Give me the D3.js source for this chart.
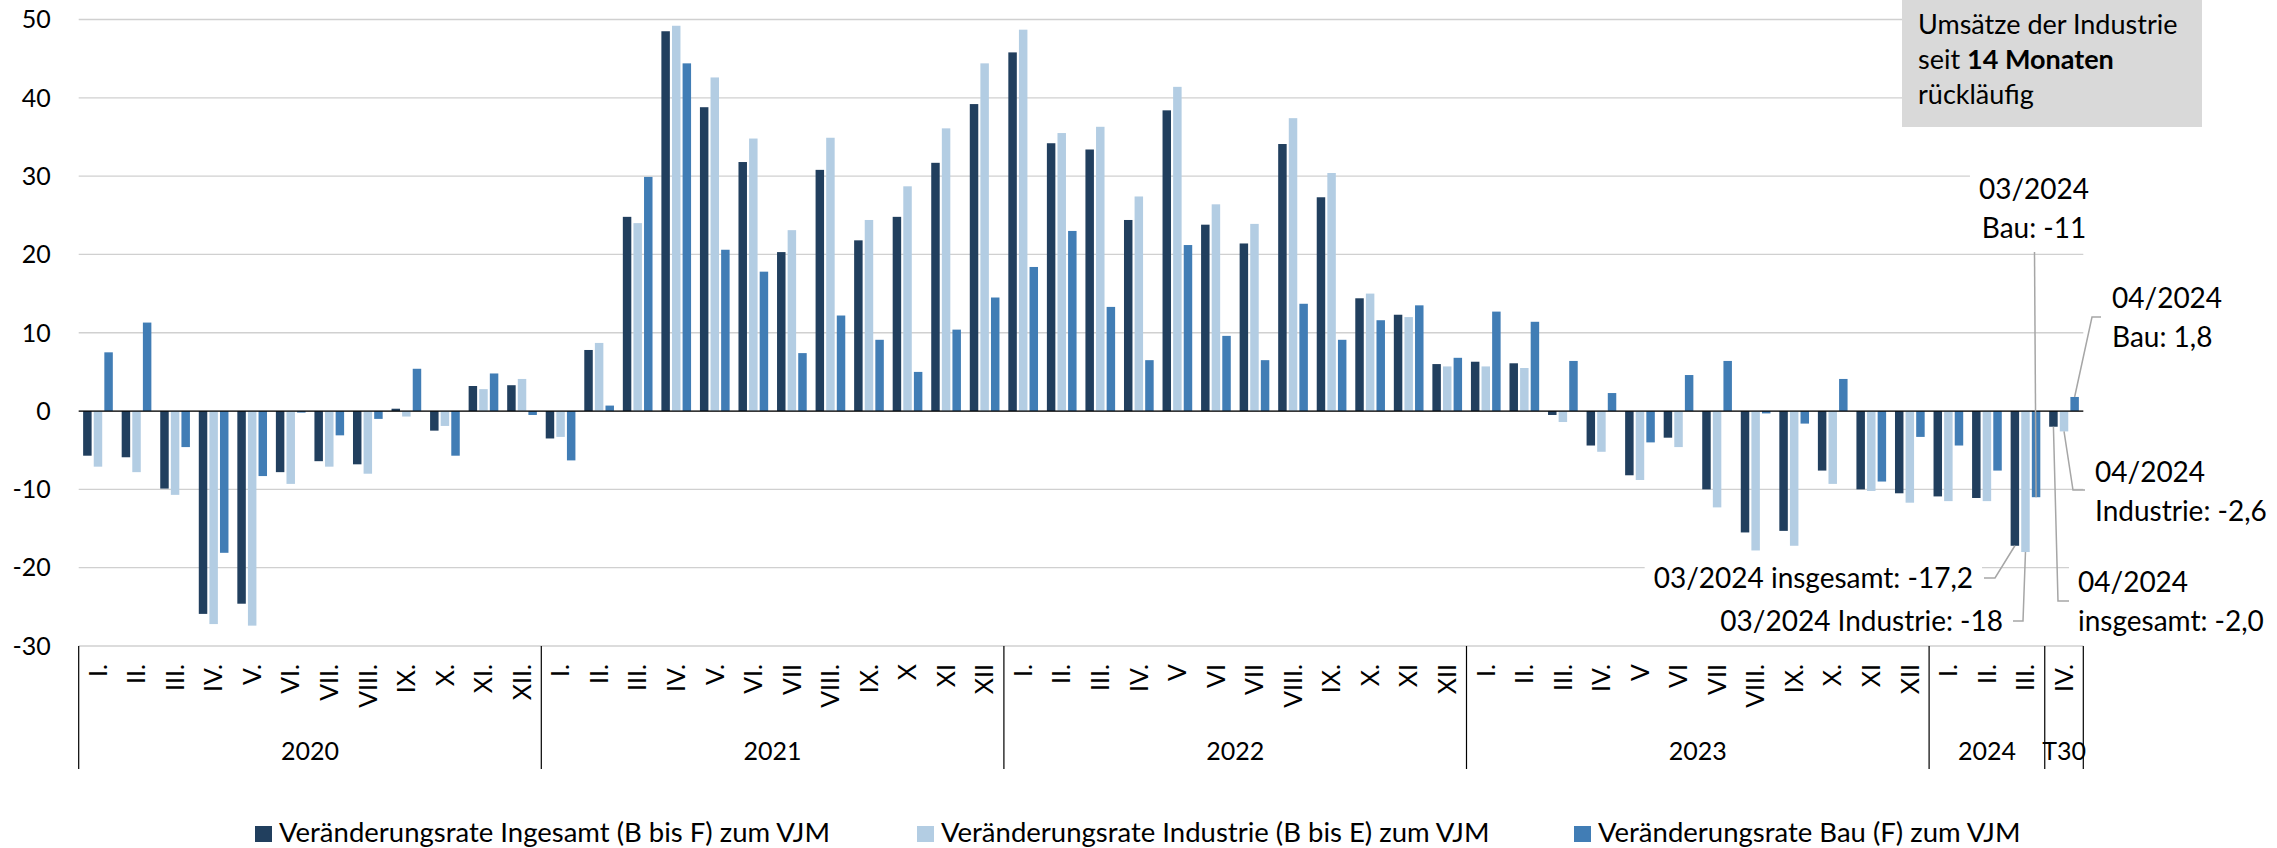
<!DOCTYPE html>
<html lang="de">
<head>
<meta charset="utf-8">
<script src="https://cdn.jsdelivr.net/npm/d3@7"></script>
<style>
  body { margin: 0; background: #fff; }
  svg { display: block; font-family: Lato, 'Open Sans', sans-serif; }
</style>
</head>
<body>
<div id="plot"></div>
<script>
// categories
const monthLabels = [
    'I.', 'II.', 'III.', 'IV.', 'V.', 'VI.', 'VII.', 'VIII.', 'IX.', 'X.', 'XI.', 'XII.',
    'I.', 'II.', 'III.', 'IV.', 'V.', 'VI.', 'VII', 'VIII.', 'IX.', 'X', 'XI', 'XII',
    'I.', 'II.', 'III.', 'IV.', 'V', 'VI', 'VII', 'VIII.', 'IX.', 'X.', 'XI', 'XII',
    'I.', 'II.', 'III.', 'IV.', 'V', 'VI', 'VII', 'VIII.', 'IX.', 'X.', 'XI', 'XII',
    'I.', 'II.', 'III.',
    'IV.'
];
const yearLabels = ['2020', '2021', '2022', '2023', '2024', 'T30'];
const yearLengths = [12, 12, 12, 12, 3, 1];

// series values (change rate to same month of previous year, %)
const seriesNames = [
    'Veränderungsrate Ingesamt (B bis F) zum VJM',
    'Veränderungsrate Industrie (B bis E) zum VJM',
    'Veränderungsrate Bau (F) zum VJM'
];
const ingesamt = [
    -5.7, -5.9, -9.9, -25.9, -24.6, -7.8, -6.4, -6.8, 0.3, -2.5, 3.2, 3.3,
    -3.5, 7.8, 24.8, 48.5, 38.8, 31.8, 20.3, 30.8, 21.8, 24.8, 31.7, 39.2,
    45.8, 34.2, 33.4, 24.4, 38.4, 23.8, 21.4, 34.1, 27.3, 14.4, 12.3, 6.0,
    6.3, 6.1, -0.5, -4.4, -8.2, -3.4, -10.0, -15.5, -15.3, -7.6, -10.0, -10.5,
    -10.9, -11.1, -17.2,
    -2.0
];
const industrie = [
    -7.1, -7.8, -10.7, -27.2, -27.4, -9.3, -7.1, -8.0, -0.7, -1.9, 2.8, 4.1,
    -3.3, 8.7, 24.0, 49.2, 42.6, 34.8, 23.1, 34.9, 24.4, 28.7, 36.1, 44.4,
    48.7, 35.5, 36.3, 27.4, 41.4, 26.4, 23.9, 37.4, 30.4, 15.0, 12.0, 5.7,
    5.7, 5.5, -1.4, -5.2, -8.8, -4.6, -12.3, -17.8, -17.2, -9.3, -10.2, -11.7,
    -11.5, -11.5, -18.0,
    -2.6
];
const bau = [
    7.5, 11.3, -4.6, -18.1, -8.3, -0.2, -3.1, -1.0, 5.4, -5.7, 4.8, -0.5,
    -6.3, 0.7, 29.9, 44.4, 20.6, 17.8, 7.4, 12.2, 9.1, 5.0, 10.4, 14.5,
    18.4, 23.0, 13.3, 6.5, 21.2, 9.6, 6.5, 13.7, 9.1, 11.6, 13.5, 6.8,
    12.7, 11.4, 6.4, 2.3, -4.0, 4.6, 6.4, -0.3, -1.6, 4.1, -9.0, -3.3,
    -4.4, -7.6, -11.0,
    1.8
];
const yTicks = [-30, -20, -10, 0, 10, 20, 30, 40, 50];

const colors = ['#213f5e', '#b3cde3', '#417db5'];
const series = [ingesamt, industrie, bau];

// layout
const W = 2277;
const H = 848;
const margin = {t: 19.5, r: W - 2083.3, b: H - 646, l: 78.7};
const plotW = W - margin.l - margin.r;
const plotH = H - margin.t - margin.b;

const svg = d3.select('#plot')
    .append('svg')
    .attr('width', W)
    .attr('height', H);

const g = svg.append('g')
    .attr('transform', `translate(${margin.l}, ${margin.t})`);

const x0 = d3.scaleBand()
    .domain(d3.range(monthLabels.length))
    .range([0, plotW])
    .paddingInner(0.23)
    .paddingOuter(0.115);

const x1 = d3.scaleBand()
    .domain(d3.range(series.length))
    .range([0, x0.bandwidth()])
    .paddingInner(0.2);

const y = d3.scaleLinear()
    .domain([-30, 50])
    .range([plotH, 0]);

// gridlines
g.append('g')
    .selectAll('line')
    .data(yTicks)
    .join('line')
    .attr('x1', 0)
    .attr('x2', plotW)
    .attr('y1', d => y(d))
    .attr('y2', d => y(d))
    .attr('stroke', '#d0d0d0')
    .attr('stroke-width', 1.3);

// y tick labels
g.append('g')
    .selectAll('text')
    .data(yTicks)
    .join('text')
    .attr('x', -28)
    .attr('y', d => y(d))
    .attr('dy', '0.35em')
    .attr('text-anchor', 'end')
    .style('font-size', '25px')
    .text(d => d);

// bars
const monthGroups = g.append('g')
    .selectAll('g')
    .data(d3.range(monthLabels.length))
    .join('g')
    .attr('transform', i => `translate(${x0(i)}, 0)`);

monthGroups.selectAll('rect')
    .data(i => series.map((s, k) => ({k: k, v: s[i]})))
    .join('rect')
    .attr('x', d => x1(d.k))
    .attr('width', x1.bandwidth())
    .attr('y', d => y(Math.max(0, d.v)))
    .attr('height', d => Math.abs(y(d.v) - y(0)))
    .attr('fill', d => colors[d.k]);

// zero line
g.append('line')
    .attr('x1', 0)
    .attr('x2', plotW)
    .attr('y1', y(0))
    .attr('y2', y(0))
    .attr('stroke', '#000')
    .attr('stroke-width', 1.2);

// category axis: month labels
const step = x0.step();
g.append('g')
    .selectAll('text')
    .data(monthLabels)
    .join('text')
    .attr('transform', (d, i) => `translate(${(i + 0.5) * step}, ${plotH + 18}) rotate(-90)`)
    .attr('dy', '0.35em')
    .attr('text-anchor', 'end')
    .style('font-size', '25px')
    .text(d => d);

// year groups
const cum = [0, ...d3.cumsum(yearLengths)];
g.append('g')
    .selectAll('line')
    .data(cum)
    .join('line')
    .attr('x1', d => d * step)
    .attr('x2', d => d * step)
    .attr('y1', plotH)
    .attr('y2', plotH + 123)
    .attr('stroke', '#000')
    .attr('stroke-width', 1.2);

g.append('g')
    .selectAll('text')
    .data(yearLabels)
    .join('text')
    .attr('x', (d, i) => (cum[i] + yearLengths[i] / 2) * step)
    .attr('y', plotH + 114)
    .attr('text-anchor', 'middle')
    .style('font-size', '25px')
    .text(d => d);

// annotations for the latest months
const notes = [
    {s: 0, m: 50, lines: ['03/2024 insgesamt: -17,2'], x: 1973, y: 588, anchor: 'end', elbow: [[1984, 578], [1995, 578]]},
    {s: 1, m: 50, lines: ['03/2024 Industrie: -18'], x: 2003, y: 631, anchor: 'end', elbow: [[2013, 621], [2023, 621]]},
    {s: 2, m: 50, lines: ['03/2024', 'Bau: -11'], x: 2034, y: 199, anchor: 'middle', elbow: [[2034.5, 252]]},
    {s: 2, m: 51, lines: ['04/2024', 'Bau: 1,8'], x: 2112, y: 308, anchor: 'start', elbow: [[2101, 317], [2092, 317]]},
    {s: 1, m: 51, lines: ['04/2024', 'Industrie: -2,6'], x: 2095, y: 482, anchor: 'start', elbow: [[2085, 490], [2073, 490]]},
    {s: 0, m: 51, lines: ['04/2024', 'insgesamt: -2,0'], x: 2078, y: 592, anchor: 'start', elbow: [[2069, 601], [2058, 601]]}
];

const noteLayer = svg.append('g');
const line = d3.line();

notes.forEach(n => {
    const v = series[n.s][n.m];
    const barEnd = [margin.l + x0(n.m) + x1(n.s) + x1.bandwidth() / 2, margin.t + y(v)];
    const pts = n.elbow.concat([barEnd]);

    const box = noteLayer.append('rect').attr('fill', '#fff');
    const txt = noteLayer.append('text')
        .attr('text-anchor', n.anchor)
        .style('font-size', '28px');
    n.lines.forEach((l, i) => {
        txt.append('tspan')
            .attr('x', n.x)
            .attr('y', n.y + i * 38.5)
            .text(l);
    });
    const bb = txt.node().getBBox();
    box.attr('x', bb.x - 9)
        .attr('y', bb.y - 2)
        .attr('width', bb.width + 18)
        .attr('height', bb.height + 4);

    noteLayer.append('path')
        .attr('d', line(pts))
        .attr('fill', 'none')
        .attr('stroke', '#a6a6a6')
        .attr('stroke-width', 1.5);
});

// grey info box
svg.append('rect')
    .attr('x', 1902)
    .attr('y', 0)
    .attr('width', 300)
    .attr('height', 127)
    .attr('fill', '#d9d9d9');

const info = svg.append('text')
    .style('font-size', '27px');
info.append('tspan').attr('x', 1918).attr('y', 34).text('Umsätze der Industrie');
const l2 = info.append('tspan').attr('x', 1918).attr('y', 69);
l2.append('tspan').text('seit ');
l2.append('tspan').style('font-weight', 'bold').text('14 Monaten');
info.append('tspan').attr('x', 1918).attr('y', 104).text('rückläufig');

// legend
const legendX = [255, 917, 1574];
const legend = svg.append('g')
    .selectAll('g')
    .data(seriesNames)
    .join('g')
    .attr('transform', (d, i) => `translate(${legendX[i]}, 842)`);

legend.append('rect')
    .attr('x', 0)
    .attr('y', -16)
    .attr('width', 17)
    .attr('height', 16)
    .attr('fill', (d, i) => colors[i]);

legend.append('text')
    .attr('x', 24)
    .attr('y', 0)
    .style('font-size', '27.5px')
    .text(d => d);
</script>
</body>
</html>
